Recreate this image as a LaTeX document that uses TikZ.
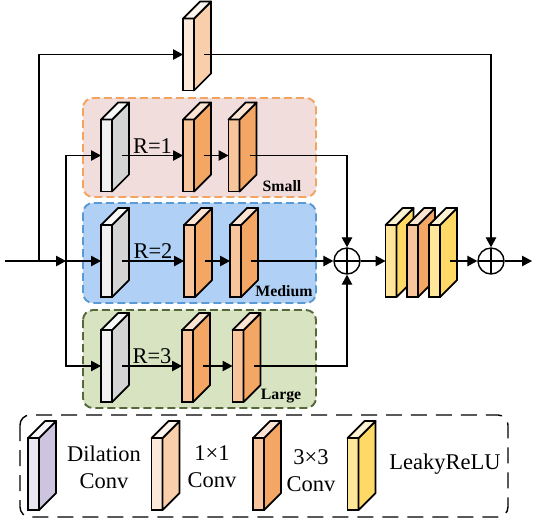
\documentclass[tikz,border=0pt]{standalone}
\usepackage{fontspec}
\setmainfont{Liberation Serif}
\usepackage{tikz}
\usetikzlibrary{arrows.meta,positioning,calc}
\definecolor{dilfront}{HTML}{F0F0F0}
\definecolor{dilside}{HTML}{D4D4D4}
\definecolor{dlgfront}{HTML}{E9E6F1}
\definecolor{dlgside}{HTML}{CDC5DF}
\definecolor{onefront}{HTML}{FDE9DA}
\definecolor{oneside}{HTML}{F8CFAA}
\definecolor{threefront}{HTML}{F8C49B}
\definecolor{threeside}{HTML}{F4A664}
\definecolor{relufront}{HTML}{FFE699}
\definecolor{reluside}{HTML}{FFD966}
\definecolor{smallfill}{HTML}{F1DDDC}
\definecolor{smalledge}{HTML}{F4A460}
\definecolor{medfill}{HTML}{B0D0F5}
\definecolor{mededge}{HTML}{5B9BD5}
\definecolor{largefill}{HTML}{D8E4C1}
\definecolor{largeedge}{HTML}{56683A}

\tikzset{
  slab/.style={draw, line width=1pt, minimum width=0.22cm, minimum height=1.44cm,
    inner sep=0pt, outer sep=0pt},
  slabedge/.style={line width=1pt, line join=round},
  arr/.style={line width=0.6pt, -{Triangle[length=2mm,width=2.1mm]}},
  adder/.style={circle, draw, line width=0.8pt, minimum size=0.52cm, inner sep=0pt,
    path picture={\draw[line width=0.8pt] (path picture bounding box.north) -- (path picture bounding box.south)
      (path picture bounding box.west) -- (path picture bounding box.east);}},
  branchbox/.style={line width=1.1pt, rounded corners=0.2cm, dash pattern=on 1.6mm off 0.8mm},
  tag/.style={font=\fontsize{9}{10}\selectfont\bfseries},
  rate/.style={font=\fontsize{12.8}{14}\selectfont, inner sep=1pt},
  legtext/.style={font=\fontsize{12.8}{15.3}\selectfont, align=center},
}

% slab: name, position, front colour, side colour
\newcommand{\slab}[4]{%
  \node[slab, fill=#3] (#1) at (#2) {};
  \draw[slabedge, fill=#4] (#1.north east) -- ++(0.34cm,0.34cm) -- ++(0cm,-1.44cm) -- (#1.south east) -- cycle;
  \draw[slabedge, fill=#3!45] (#1.north west) -- ++(0.34cm,0.34cm) -- ++(0.22cm,0cm) -- (#1.north east) -- cycle;
  \coordinate (#1-o) at ($(#1.east)+(0.2cm,0cm)$);
}

\begin{document}
\begin{tikzpicture}[x=0.02cm, y=-0.02cm]
  \useasboundingbox (0,0) rectangle (533,522);

  % branch backgrounds
  \draw[branchbox, fill=smallfill, draw=smalledge] (83,98) rectangle (316,197);
  \draw[branchbox, fill=medfill, draw=mededge] (83,203) rectangle (316,303);
  \draw[branchbox, fill=largefill, draw=largeedge] (83,310) rectangle (316,408);

  % blocks
  \slab{t1}{188.5,54.5}{onefront}{oneside}
  \slab{d1}{106.5,155.5}{dilfront}{dilside}
  \slab{a1}{188.5,155.5}{threefront}{threeside}
  \slab{b1}{234,155.5}{threefront}{threeside}
  \slab{d2}{106.5,261}{dilfront}{dilside}
  \slab{a2}{189.5,261}{threefront}{threeside}
  \slab{b2}{235.5,261}{threefront}{threeside}
  \slab{d3}{106.5,366}{dilfront}{dilside}
  \slab{a3}{187.5,366}{threefront}{threeside}
  \slab{b3}{238,366}{threefront}{threeside}
  \slab{r1}{391,261}{relufront}{reluside}
  \slab{r2}{412.5,261}{threefront}{threeside}
  \slab{r3}{434.5,261}{relufront}{reluside}

  \node[tag] (small) at (282,186) {Small};
  \node[tag] (medium) at (284,291) {Medium};
  \node[tag] (large) at (281,396) {Large};

  \node[adder] (add1) at (347,261) {};
  \node[adder] (add2) at (491,261) {};

  % inputs
  \coordinate (in) at (5,261);
  \coordinate (j0) at (39,261);
  \coordinate (j1) at (66,261);
  \coordinate (out) at (532,261);
  \draw[arr] (in) -- (j1);
  \draw[arr] (j1) -- (d2.west);
  \draw[arr] (j1) |- (d1.west);
  \draw[arr] (j1) |- (d3.west);
  \draw[arr] (j0) |- (t1.west);

  % branches
  \draw[arr] (d1-o) -- node[rate, above] {R=1} (a1.west);
  \draw[arr] (d2-o) -- node[rate, above] {R=2} (a2.west);
  \draw[arr] (d3-o) -- node[rate, above] {R=3} (a3.west);
  \draw[arr] (a1-o) -- (b1.west);
  \draw[arr] (a2-o) -- (b2.west);
  \draw[arr] (a3-o) -- (b3.west);
  \draw[arr] (b1-o) -| (add1.north);
  \draw[arr] (b2-o) -- (add1.west);
  \draw[arr] (b3-o) -| (add1.south);
  \draw[arr] (add1.east) -- (r1.west);
  \draw[arr] (r3-o) -- (add2.west);
  \draw[arr] (t1-o) -| (add2.north);
  \draw[arr] (add2.east) -- (out);

  % legend
  \draw[line width=0.8pt, rounded corners=0.2cm, dash pattern=on 3.2mm off 1.8mm] (20,415) rectangle (508,517);
  \slab{ld}{33.5,474}{dlgfront}{dlgside}
  \slab{lo}{157,474}{onefront}{oneside}
  \slab{lt}{258.5,474}{threefront}{threeside}
  \slab{lr}{353,474}{relufront}{reluside}
  \node[legtext] (ldt) at (104,467) {Dilation\\Conv};
  \node[legtext] (lot) at (212,467) {1×1\\Conv};
  \node[legtext] (ltt) at (311,471) {3×3\\Conv};
  \node[legtext] (lrt) at (445,464) {LeakyReLU};
\end{tikzpicture}
\end{document}
